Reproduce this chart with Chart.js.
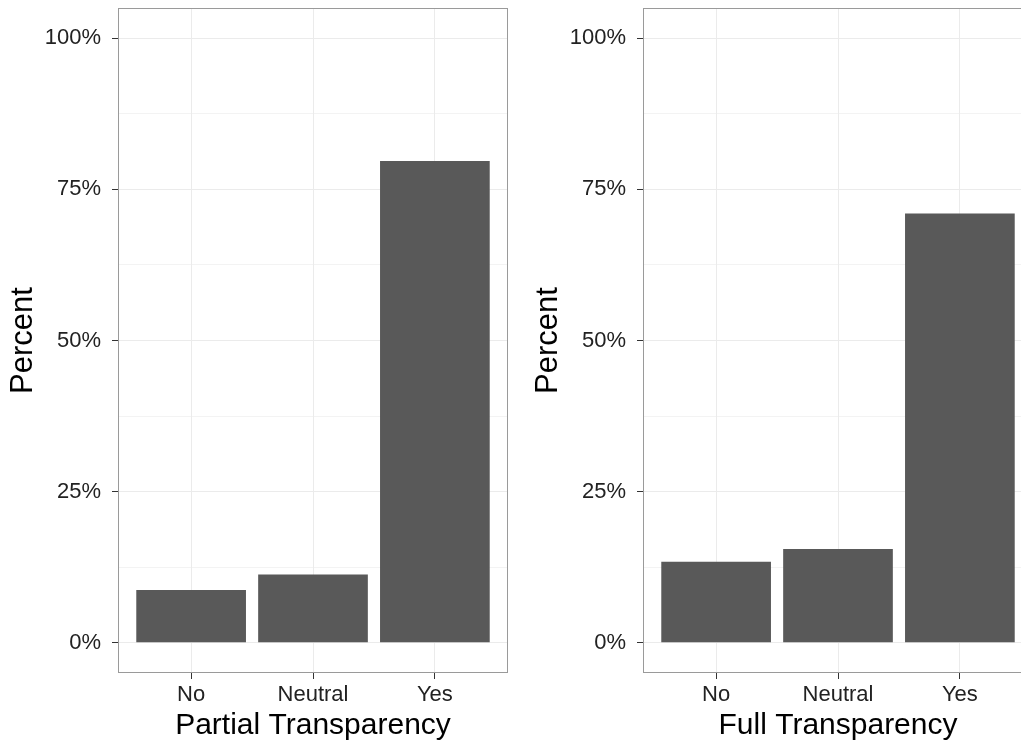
<!DOCTYPE html>
<html>
<head>
<meta charset="utf-8">
<script src="https://cdn.jsdelivr.net/npm/chart.js@4/dist/chart.umd.min.js"></script>
<style>
  html, body { margin: 0; padding: 0; background: #fff; overflow: hidden; }
  body { width: 1021px; height: 742px; position: relative; }
  .panel { position: absolute; top: 0; width: 520px; height: 742px; }
  #left { left: 0; }
  #right { left: 525px; }
</style>
</head>
<body>
<div class="panel" id="left"><canvas id="chartLeft"></canvas></div>
<div class="panel" id="right"><canvas id="chartRight"></canvas></div>
<script>
// data
const categories = ["No", "Neutral", "Yes"]
const partialValues = [8.75, 11.3, 79.7]
const fullValues = [13.4, 15.5, 71.0]
const majorTicks = [0, 25, 50, 75, 100]
const minorTicks = [12.5, 37.5, 62.5, 87.5]
const yTitle = "Percent"

const FONT = "'Liberation Sans', Arial, sans-serif"

// draws the top/right sides of the panel border
const panelBorder = {
  id: "panelBorder",
  afterDraw(chart) {
    const { ctx, chartArea: a } = chart
    ctx.save()
    ctx.strokeStyle = "#9a9a9a"
    ctx.lineWidth = 1
    ctx.strokeRect(a.left + 0.5, a.top + 0.5, a.right - a.left - 1, a.bottom - a.top - 1)
    ctx.restore()
  },
}

function isMajor(v) {
  return majorTicks.includes(v)
}

function makeChart(id, values, xTitle) {
  const ctx = document.getElementById(id)
  return new Chart(ctx, {
    type: "bar",
    data: {
      datasets: [
        {
          data: values.map((v, i) => ({ x: i, y: v })),
          backgroundColor: "#595959",
          borderWidth: 0,
          barPercentage: 0.9,
          categoryPercentage: 1.0,
        },
      ],
    },
    plugins: [panelBorder],
    options: {
      responsive: true,
      maintainAspectRatio: false,
      animation: false,
      layout: { padding: { top: 8, right: 12, bottom: 0, left: 0 } },
      plugins: { legend: { display: false }, tooltip: { enabled: false } },
      scales: {
        x: {
          type: "linear",
          offset: false,
          min: -0.6,
          max: categories.length - 1 + 0.6,
          afterBuildTicks: (scale) => {
            scale.ticks = categories.map((c, i) => ({ value: i }))
          },
          afterFit: (scale) => {
            scale.height = 69
            scale.paddingLeft = 0
            scale.paddingRight = 0
          },
          grid: {
            offset: false,
            color: "#ebebeb",
            lineWidth: 1,
            tickLength: 6,
            tickColor: "#333",
          },
          border: { display: false },
          ticks: {
            padding: 3,
            color: "#222",
            font: { family: FONT, size: 22 },
            callback: (v) => categories[v],
            maxRotation: 0,
          },
          title: {
            display: true,
            text: xTitle,
            color: "#000",
            font: { family: FONT, size: 30 },
            padding: { top: 0, bottom: -2 },
          },
        },
        y: {
          min: -5,
          max: 105,
          afterBuildTicks: (scale) => {
            scale.ticks = majorTicks.concat(minorTicks).sort((a, b) => a - b).map((v) => ({ value: v }))
          },
          afterFit: (scale) => {
            scale.width = 118
            scale.paddingTop = 0
            scale.paddingBottom = 0
          },
          grid: {
            color: "#ebebeb",
            lineWidth: (c) => (isMajor(c.tick.value) ? 1 : 0.6),
            tickLength: 6,
            tickColor: (c) => (isMajor(c.tick.value) ? "#333" : "rgba(0,0,0,0)"),
          },
          border: { display: false },
          ticks: {
            padding: 11,
            color: "#222",
            font: { family: FONT, size: 22 },
            callback: (v) => (isMajor(v) ? v + "%" : ""),
          },
          title: {
            display: true,
            text: yTitle,
            color: "#000",
            font: { family: FONT, size: 31 },
            padding: { top: 5, bottom: 0 },
          },
        },
      },
    },
  })
}

makeChart("chartLeft", partialValues, "Partial Transparency")
makeChart("chartRight", fullValues, "Full Transparency")
</script>
</body>
</html>
